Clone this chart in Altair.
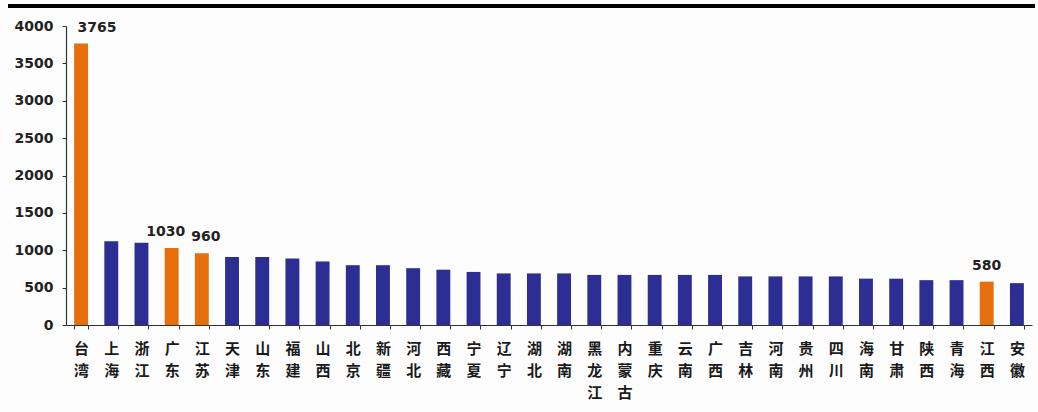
import altair as alt
import pandas as pd

provinces = ["台湾", "上海", "浙江", "广东", "江苏", "天津", "山东", "福建", "山西", "北京",
             "新疆", "河北", "西藏", "宁夏", "辽宁", "湖北", "湖南", "黑龙江", "内蒙古", "重庆",
             "云南", "广西", "吉林", "河南", "贵州", "四川", "海南", "甘肃", "陕西", "青海",
             "江西", "安徽"]
values = [3765, 1120, 1100, 1030, 960, 910, 910, 890, 850, 800,
          800, 760, 740, 710, 690, 690, 690, 670, 670, 670,
          670, 670, 650, 650, 650, 650, 620, 620, 600, 600,
          580, 560]
highlighted = ["台湾", "广东", "江苏", "江西"]
y_ticks = [0, 500, 1000, 1500, 2000, 2500, 3000, 3500, 4000]

df = pd.DataFrame({"province": provinces, "value": values})
df["group"] = ["hi" if p in highlighted else "lo" for p in provinces]
df["label"] = [str(v) if p in highlighted else "" for p, v in zip(provinces, values)]

x = alt.X("province:N", sort=provinces, title=None,
          scale=alt.Scale(paddingInner=0.54, paddingOuter=0.27),
          axis=alt.Axis(labelAngle=0, labelExpr="split(datum.label, '')",
                        labelFont="Noto Sans CJK SC", labelFontWeight="bold",
                        labelFontSize=15, labelLineHeight=22, labelColor="#1a1a1a",
                        labelPadding=12, labelBaseline="top",
                        tickBand="extent", tickSize=4, tickColor="#333333",
                        domainColor="#333333", domainWidth=1.2))
y = alt.Y("value:Q", title=None,
          scale=alt.Scale(domain=[0, 4000]),
          axis=alt.Axis(values=y_ticks, format="d", grid=False, labelOverlap=False,
                        labelFont="DejaVu Sans", labelFontWeight="bold",
                        labelFontSize=14, labelColor="#222222", labelPadding=9,
                        tickSize=4, tickColor="#333333",
                        domainColor="#333333", domainWidth=1.2))

bars = alt.Chart(df).mark_bar().encode(
    x=x, y=y,
    color=alt.Color("group:N", legend=None,
                    scale=alt.Scale(domain=["hi", "lo"], range=["#E56F0C", "#2C2E94"])),
)

text_style = dict(dy=-16, font="DejaVu Sans", fontWeight="bold",
                  fontSize=14, color="#222222")


def value_text(name, dx):
    return alt.Chart(df).transform_filter(f"datum.province == '{name}'").mark_text(
        dx=dx, **text_style).encode(x=x, y=y, text="label:N")


texts = [value_text("台湾", 16), value_text("广东", -6),
         value_text("江苏", 4), value_text("江西", 0)]

topline = alt.Chart(df).mark_rule(color="black", strokeWidth=3, clip=False).encode(
    x=alt.value(-58), x2=alt.value(969), y=alt.value(-20))

chart = alt.layer(bars, *texts, topline).properties(
    width=966, height=299,
    autosize=alt.AutoSizeParams(type="none"),
    padding={"left": 66, "top": 26, "right": 6, "bottom": 87},
    background="#FDFDFD",
).configure_view(stroke=None)

chart.save("out.html", embed_options={"renderer": "svg", "actions": False})
